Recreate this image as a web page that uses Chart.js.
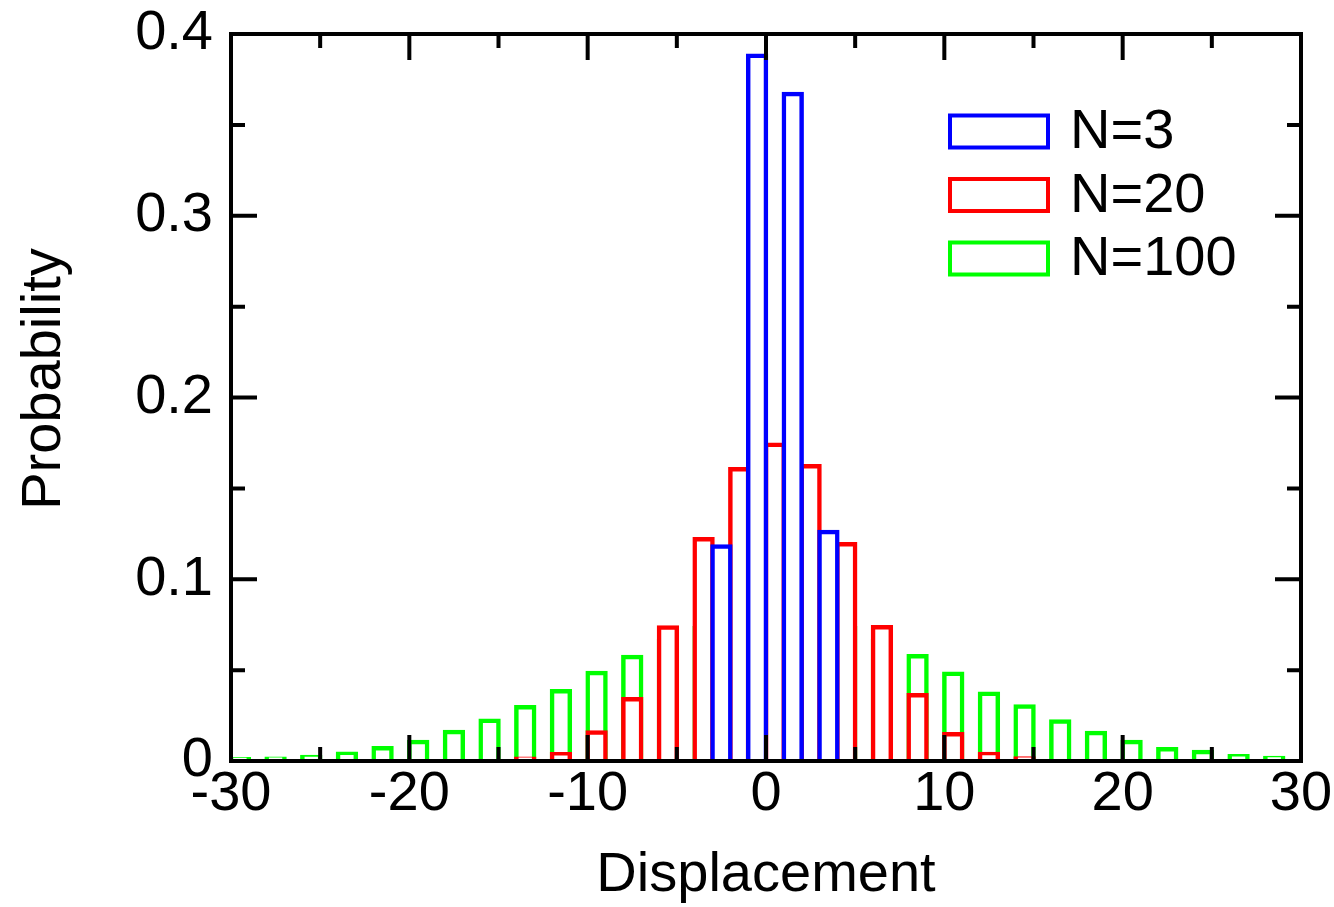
<!DOCTYPE html>
<html>
<head>
<meta charset="utf-8">
<title>Random walk displacement</title>
<script src="https://cdn.jsdelivr.net/npm/chart.js@4/dist/chart.umd.min.js"></script>
<style>
  html, body { margin: 0; padding: 0; background: #ffffff; }
  #wrap { width: 1334px; height: 907px; }
</style>
</head>
<body>
<div id="wrap"><canvas id="chart" width="1334" height="907"></canvas></div>
<script>
// Histogram bins: left edge of each unit-wide displacement bin, and its probability.
const binWidth = 1;

const seriesLabels = ['N=3', 'N=20', 'N=100'];
const seriesColors = ['#0000ff', '#ff0000', '#00ff00'];

const binsN3 = [-3, -1, 1, 3];
const probN3 = [0.118, 0.388, 0.367, 0.126];

const binsN20 = [-14, -12, -10, -8, -6, -4, -2, 0, 2, 4, 6, 8, 10, 12, 14];
const probN20 = [0.0013, 0.0037, 0.0157, 0.034, 0.0734, 0.122, 0.1605, 0.174,
                 0.1622, 0.1193, 0.0736, 0.0362, 0.0147, 0.0039, 0.0014];

const binsN100 = [-30, -28, -26, -24, -22, -20, -18, -16, -14, -12, -10, -8, -6, -4, -2,
                  0, 2, 4, 6, 8, 10, 12, 14, 16, 18, 20, 22, 24, 26, 28];
const probN100 = [0.001, 0.0013, 0.0022, 0.004, 0.007, 0.0105, 0.016, 0.0222, 0.0296, 0.0384,
                  0.0484, 0.0572, 0.066, 0.073, 0.078, 0.080, 0.078, 0.073, 0.066, 0.0576,
                  0.048, 0.037, 0.030, 0.0218, 0.0154, 0.0105, 0.0064, 0.005, 0.0026, 0.0017];

// Axis ticks
const xTicks = [-30, -20, -10, 0, 10, 20, 30];
const xTickLabels = ['-30', '-20', '-10', '0', '10', '20', '30'];
const xMinorTicks = [-25, -15, -5, 5, 15, 25];
const yTicks = [0, 0.1, 0.2, 0.3, 0.4];
const yTickLabels = ['0', '0.1', '0.2', '0.3', '0.4'];
const yMinorTicks = [0.05, 0.15, 0.25, 0.35];

const FONT_FAMILY = "'Liberation Sans', Arial, Helvetica, sans-serif";
const FONT_SIZE = 56;
Chart.defaults.font.family = FONT_FAMILY;
Chart.defaults.font.size = FONT_SIZE;
Chart.defaults.color = '#000000';

const toPoints = (bins, probs) => bins.map((b, i) => ({ x: b + binWidth / 2, y: probs[i] }));

const histogramStyle = (i) => ({
  label: seriesLabels[i],
  borderColor: seriesColors[i],
  backgroundColor: '#ffffff',
  borderWidth: 4.5,
  borderSkipped: 'start',
  inflateAmount: 2.25,
  grouped: false,
  barPercentage: 1,
  categoryPercentage: 1
});

// Inward ticks on all four sides, the closed frame, the legend and the y title.
const framePlugin = {
  id: 'frameTicksLegend',
  afterDatasetsDraw(chart) {
    const { ctx, chartArea: a, scales: { x, y } } = chart;
    const major = 26, minor = 14;
    ctx.save();
    ctx.strokeStyle = '#000000';
    ctx.lineWidth = 4;
    ctx.lineCap = 'butt';
    ctx.beginPath();
    const xTick = (v, len) => {
      const px = x.getPixelForValue(v);
      ctx.moveTo(px, a.bottom); ctx.lineTo(px, a.bottom - len);
      ctx.moveTo(px, a.top); ctx.lineTo(px, a.top + len);
    };
    const yTick = (v, len) => {
      const py = y.getPixelForValue(v);
      ctx.moveTo(a.left, py); ctx.lineTo(a.left + len, py);
      ctx.moveTo(a.right, py); ctx.lineTo(a.right - len, py);
    };
    xTicks.forEach(v => xTick(v, major));
    xMinorTicks.forEach(v => xTick(v, minor));
    yTicks.forEach(v => yTick(v, major));
    yMinorTicks.forEach(v => yTick(v, minor));
    ctx.stroke();
    ctx.lineJoin = 'miter';
    ctx.strokeRect(a.left, a.top, a.right - a.left, a.bottom - a.top);

    // Legend
    ctx.font = FONT_SIZE + 'px ' + FONT_FAMILY;
    ctx.textAlign = 'left';
    ctx.textBaseline = 'alphabetic';
    chart.data.datasets.forEach((ds, i) => {
      const cy = 131.5 + i * 63.5;
      ctx.strokeStyle = ds.borderColor;
      ctx.lineWidth = 4;
      ctx.strokeRect(950, cy - 16, 98, 32);
      ctx.fillStyle = '#000000';
      ctx.fillText(ds.label, 1070, cy + 16.5);
    });

    // Y axis title
    ctx.translate(60, 379);
    ctx.rotate(-Math.PI / 2);
    ctx.textAlign = 'center';
    ctx.fillStyle = '#000000';
    ctx.fillText('Probability', 0, 0);
    ctx.restore();
  }
};

new Chart(document.getElementById('chart'), {
  type: 'bar',
  data: {
    datasets: [
      Object.assign({ data: toPoints(binsN3, probN3) }, histogramStyle(0)),
      Object.assign({ data: toPoints(binsN20, probN20) }, histogramStyle(1)),
      Object.assign({ data: toPoints(binsN100, probN100) }, histogramStyle(2))
    ]
  },
  options: {
    responsive: false,
    animation: false,
    events: [],
    layout: { padding: { top: 34, right: 33, left: 0, bottom: 0 } },
    plugins: { legend: { display: false }, tooltip: { enabled: false } },
    scales: {
      x: {
        type: 'linear',
        min: -30,
        max: 30,
        offset: false,
        grid: { display: false, drawTicks: false, offset: false },
        border: { display: false },
        afterBuildTicks: s => { s.ticks = xTicks.map(v => ({ value: v })); },
        afterFit: s => {
          s.height = 146;
          s.paddingLeft = 0; s.paddingRight = 0; s.paddingTop = 0; s.paddingBottom = 0;
        },
        ticks: {
          autoSkip: false,
          maxRotation: 0,
          padding: 0,
          color: '#000000',
          callback: (v, i) => xTickLabels[i]
        },
        title: {
          display: true,
          text: 'Displacement',
          color: '#000000',
          padding: { top: 0, bottom: -2 }
        }
      },
      y: {
        type: 'linear',
        min: 0,
        max: 0.4,
        grid: { display: false, drawTicks: false },
        border: { display: false },
        afterBuildTicks: s => { s.ticks = yTicks.map(v => ({ value: v })); },
        afterFit: s => {
          s.width = 231;
          s.paddingLeft = 0; s.paddingRight = 0; s.paddingTop = 0; s.paddingBottom = 0;
        },
        ticks: {
          autoSkip: false,
          padding: 18,
          color: '#000000',
          callback: (v, i) => yTickLabels[i]
        }
      }
    }
  },
  plugins: [framePlugin]
});
</script>
</body>
</html>
